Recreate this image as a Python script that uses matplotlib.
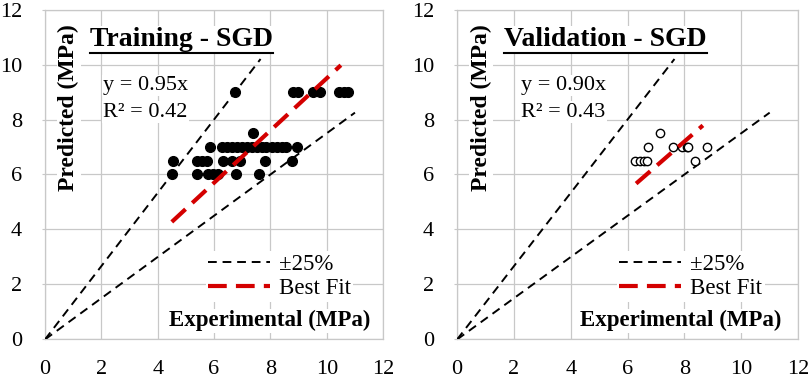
import matplotlib
matplotlib.use("Agg")
import matplotlib.pyplot as plt
from matplotlib.lines import Line2D

plt.rcParams['font.family'] = ['Liberation Serif', 'DejaVu Serif']

# training data (experimental vs predicted, MPa)
train_x = [6.74, 8.81, 8.99, 9.52, 9.76, 10.44, 10.6, 10.76,
           5.85, 6.27, 6.45, 6.62, 6.8, 6.98, 7.16, 7.33, 7.51, 7.69, 7.86, 8.04, 8.22, 8.4, 8.57, 8.93,
           7.39,
           4.55, 5.38, 5.56, 5.74, 6.33, 6.62, 6.92, 7.8, 8.77,
           4.49, 5.38, 5.79, 5.97, 6.15, 6.78, 7.58]
train_y = [9.0] * 8 + [7.0] * 16 + [7.5] + [6.5] * 9 + [6.0] * 7

# validation data
val_x = [6.26, 6.44, 6.58, 6.7, 6.73, 7.14, 7.61, 7.91, 8.08, 8.14, 8.37, 8.79]
val_y = [6.5, 6.5, 6.5, 6.5, 7.0, 7.5, 7.0, 7.0, 7.0, 7.0, 6.5, 7.0]

titles = ["Training - SGD", "Validation - SGD"]
slopes = [0.95, 0.90]
r2 = [0.42, 0.43]
fit_ranges = [(4.5, 10.5), (6.3, 8.65)]
upper_x = [0, 7.65]   # +25% bound: y = x / 0.75
lower_x = [0, 11.0]   # -25% bound: y = 0.75 x

fig = plt.figure(figsize=(8.09, 3.81), dpi=100)
ax1 = fig.add_axes([0.0556, 0.109, 0.418, 0.866])
ax2 = fig.add_axes([0.565, 0.109, 0.4215, 0.866])

grid_c = '#c8c8c8'
red = '#d40000'
blk_dash = (4.5, 3)
red_dash = (4.5, 2.2)
white_box = dict(facecolor='white', edgecolor='none', pad=1)
title_artists = []

panels = [(ax1, train_x, train_y, 'filled'), (ax2, val_x, val_y, 'open')]
for i, (ax, xs, ys, style) in enumerate(panels):
    ax.set_xlim(0, 12)
    ax.set_ylim(0, 12)
    ax.set_xticks(range(0, 13, 2))
    ax.set_yticks(range(0, 13, 2))
    ax.grid(True, color=grid_c, lw=0.9, zorder=0)
    ax.set_axisbelow(True)
    for s in ax.spines.values():
        s.set_color(grid_c)
        s.set_linewidth(0.9)
    ax.tick_params(axis='y', length=2.5, color=grid_c, pad=14, labelsize=16)
    ax.tick_params(axis='x', length=0, pad=15, labelsize=16)

    # +-25% lines
    ax.plot(upper_x, [v / 0.75 for v in upper_x], color='black', lw=1.4,
            dashes=blk_dash, zorder=3)
    ax.plot(lower_x, [v * 0.75 for v in lower_x], color='black', lw=1.4,
            dashes=blk_dash, zorder=3)

    if style == 'filled':
        ax.plot(xs, ys, 'o', color='black', ms=7, zorder=4)
    else:
        ax.plot(xs, ys, 'o', mfc='white', mec='black', mew=1.0, ms=6, zorder=4)

    fx = list(fit_ranges[i])
    ax.plot(fx, [slopes[i] * v for v in fx], color=red, lw=3,
            dashes=red_dash, zorder=5)

    t = ax.text(1.6 if i == 0 else 1.65, 10.67, titles[i], fontsize=20,
                fontweight='bold', ha='left', va='baseline', bbox=white_box, zorder=6)
    title_artists.append((ax, t))
    ex = 2.07 if i == 0 else 2.25
    ax.text(ex, 9.07, 'y = %.2fx' % slopes[i], fontsize=16, ha='left',
            va='baseline', bbox=white_box, zorder=6)
    ax.text(ex, 8.1, 'R² = %.2f' % r2[i], fontsize=16, ha='left',
            va='baseline', bbox=white_box, zorder=6)
    ax.text(0.07, 0.955, 'Predicted (MPa)', transform=ax.transAxes, rotation=90,
            fontsize=17, fontweight='bold', ha='center', va='top',
            bbox=white_box, zorder=6)
    ax.text(0.962 if i == 0 else 0.952, 0.04, 'Experimental (MPa)',
            transform=ax.transAxes, fontsize=16.5, fontweight='bold',
            ha='right', va='baseline', bbox=white_box, zorder=6)

    handles = [Line2D([], [], color='black', lw=1.4, dashes=blk_dash),
               Line2D([], [], color=red, lw=3, dashes=red_dash)]
    leg = ax.legend(handles, ['±25%', 'Best Fit'], loc='lower right',
                    bbox_to_anchor=(0.912 if i == 0 else 0.902, 0.115),
                    frameon=True, fontsize=16.5,
                    handlelength=2.7, handletextpad=0.4, labelspacing=0.15,
                    borderpad=0.1, borderaxespad=0)
    leg.get_frame().set_edgecolor('none')
    leg.get_frame().set_facecolor('white')
    leg.get_frame().set_alpha(1)
    leg.set_zorder(6)

# underline the panel titles
fig.canvas.draw()
renderer = fig.canvas.get_renderer()
inv = fig.transFigure.inverted()
for ax, t in title_artists:
    bb = t.get_window_extent(renderer)
    (x0, y0), (x1, _) = inv.transform([[bb.x0, bb.y0 - 1], [bb.x1, bb.y0]])
    fig.add_artist(Line2D([x0, x1], [y0, y0], color='black', lw=1.5,
                          transform=fig.transFigure, zorder=7))

fig.savefig('out.png', dpi=100)
